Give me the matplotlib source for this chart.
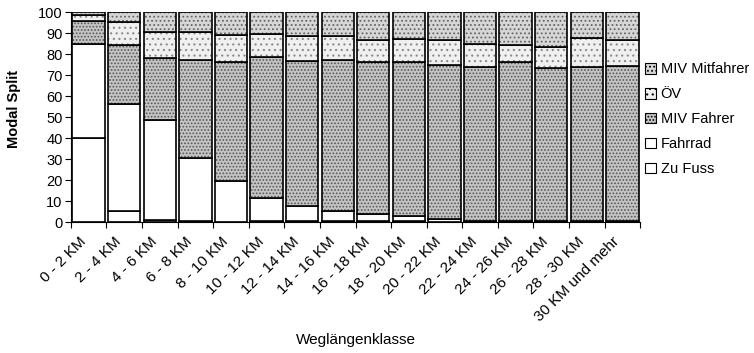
import numpy as np
import matplotlib
matplotlib.use('Agg')
import matplotlib.pyplot as plt
import matplotlib.transforms as mtransforms
from matplotlib.patches import Patch

# Modal Split nach Weglängenklasse (Anteile in %)
klassen = ['0 - 2 KM', '2 - 4 KM', '4 - 6 KM', '6 - 8 KM', '8 - 10 KM',
           '10 - 12 KM', '12 - 14 KM', '14 - 16 KM', '16 - 18 KM', '18 - 20 KM',
           '20 - 22 KM', '22 - 24 KM', '24 - 26 KM', '26 - 28 KM', '28 - 30 KM',
           '30 KM und mehr']
zu_fuss      = [40.0, 5.1, 1.0, 0.3, 0.2, 0.3, 0.3, 0.3, 0.4, 0.3, 0.2, 0.1, 0.1, 0.1, 0.1, 0.1]
fahrrad      = [45.0, 51.1, 47.4, 30.4, 19.2, 11.2, 7.3, 4.8, 3.4, 2.4, 1.4, 0.5, 0.5, 0.2, 0.2, 0.2]
miv_fahrer   = [10.5, 28.2, 29.9, 46.4, 56.6, 67.0, 69.2, 72.1, 72.3, 73.4, 73.2, 73.4, 75.5, 72.9, 73.7, 74.2]
oev          = [3.0, 10.8, 12.1, 13.3, 13.2, 11.1, 11.7, 11.3, 10.5, 11.2, 11.8, 10.7, 8.3, 10.1, 13.7, 12.1]
miv_mitfahrer = [1.5, 4.8, 9.6, 9.6, 10.8, 10.4, 11.5, 11.5, 13.4, 12.7, 13.4, 15.3, 15.6, 16.7, 12.3, 13.4]

serien = [
    ('Zu Fuss',       zu_fuss,       'white',   None,    'white'),
    ('Fahrrad',       fahrrad,       'white',   None,    'white'),
    ('MIV Fahrer',    miv_fahrer,    '#c4c4c4', '.....', '#555555'),
    ('ÖV',            oev,           '#f0f0f0', '...',   '#8a8a8a'),
    ('MIV Mitfahrer', miv_mitfahrer, '#d6d6d6', '....',  '#666666'),
]

plt.rcParams['font.family'] = ['Liberation Sans', 'DejaVu Sans']
plt.rcParams['hatch.linewidth'] = 0.8

fig = plt.figure(figsize=(7.54, 3.53), dpi=100)
ax = fig.add_axes([0.094, 0.371, 0.755, 0.595])

x = np.arange(len(klassen))
breite = 0.91
unten = np.zeros(len(klassen))
handles = []
for name, werte, farbe, muster, punktfarbe in serien:
    werte = np.array(werte)
    # Füllung mit Punktraster (Schraffurfarbe kommt aus edgecolor)
    ax.bar(x, werte, breite, bottom=unten, color=farbe, hatch=muster,
           edgecolor=punktfarbe, linewidth=0)
    # schwarze Umrandung darüber
    ax.bar(x, werte, breite, bottom=unten, fill=False,
           edgecolor='black', linewidth=1.2)
    handles.append(Patch(facecolor=farbe, hatch=muster, edgecolor='black',
                         linewidth=0.8, label=name))
    unten = unten + werte

ax.set_xlim(-0.5, len(klassen) - 0.5)
ax.set_ylim(0, 100)
ax.set_yticks(np.arange(0, 101, 10))
ax.tick_params(axis='y', labelsize=10.5, length=4, width=0.8, direction='out', pad=2)

ax.set_xticks(x)
ax.set_xticks(np.arange(-0.5, len(klassen), 1), minor=True)
ax.tick_params(axis='x', which='major', length=0, pad=2)
ax.tick_params(axis='x', which='minor', length=4, width=0.8, direction='out')
ax.set_xticklabels(klassen, rotation=45, ha='right', va='top',
                   rotation_mode='anchor', fontsize=11)
versatz = mtransforms.ScaledTranslation(-0.10, -0.10, fig.dpi_scale_trans)
for lbl in ax.get_xticklabels():
    lbl.set_transform(lbl.get_transform() + versatz)

for s in ['top', 'right']:
    ax.spines[s].set_visible(False)
ax.spines['left'].set_linewidth(0.8)
ax.spines['bottom'].set_linewidth(0.8)

fig.text(0.018, 0.69, 'Modal Split', rotation=90, fontsize=10.5,
         fontweight='bold', ha='center', va='center')
fig.text(0.472, 0.037, 'Weglängenklasse', fontsize=11, ha='center', va='center')

fig.legend(handles[::-1], [h.get_label() for h in handles[::-1]],
           loc='upper left', bbox_to_anchor=(0.848, 0.84), frameon=False,
           fontsize=10.5, handlelength=0.75, handleheight=0.75,
           handletextpad=0.3, labelspacing=0.75, borderaxespad=0)

fig.savefig('out.png', dpi=100)
